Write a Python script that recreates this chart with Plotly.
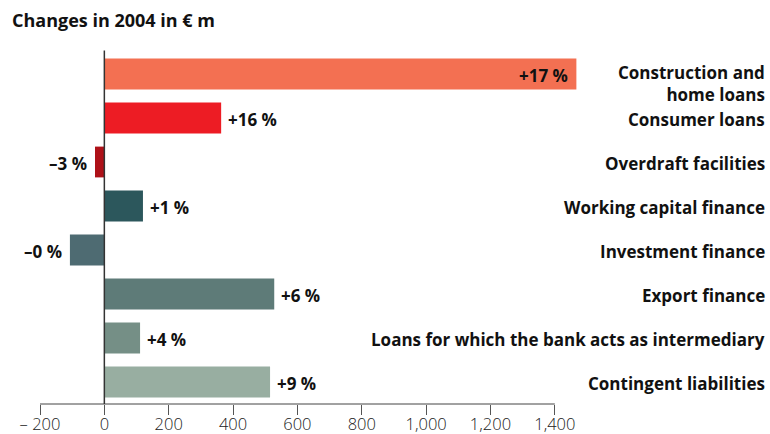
import plotly.graph_objects as go

# Changes in lending volume in 2004, € m, with growth rates
categories = [
    "Construction and<br>home loans",
    "Consumer loans",
    "Overdraft facilities",
    "Working capital finance",
    "Investment finance",
    "Export finance",
    "Loans for which the bank acts as intermediary",
    "Contingent liabilities",
]
values = [1467, 363, -29, 120, -107, 528, 111, 515]
pct_labels = ["+17 %", "+16 %", "–3 %", "+1 %", "–0 %", "+6 %", "+4 %", "+9 %"]
colors = ["#F37052", "#ED1C24", "#AE1118", "#2C575C",
          "#4E6B72", "#5E7B78", "#758F86", "#98AEA1"]
tick_vals = [-200, 0, 200, 400, 600, 800, 1000, 1200, 1400]
tick_text = ["– 200", "0", "200", "400", "600", "800", "1,000", "1,200", "1,400"]

FONT = "Open Sans"
TXT = "#111111"
ypos = list(range(len(categories)))

fig = go.Figure()
fig.add_trace(go.Bar(
    y=ypos,
    x=values,
    orientation="h",
    marker=dict(color=colors, line=dict(width=0)),
    hoverinfo="skip",
))

# growth-rate labels: inside the end of the longest bar, beside the others
for i, (v, lab) in enumerate(zip(values, pct_labels)):
    if i == 0:
        anchor, shift = "right", -6
    elif v >= 0:
        anchor, shift = "left", 5
    else:
        anchor, shift = "right", -6
    fig.add_annotation(
        x=v, xref="x", y=i, yref="y", text=lab, showarrow=False,
        xanchor=anchor, yanchor="middle", xshift=shift, yshift=-1,
        font=dict(family=FONT, size=17, color=TXT, weight="bold"),
    )

# category names, right-aligned at the right edge of the figure
for i, name in enumerate(categories):
    two_line = "<br>" in name
    fig.add_annotation(
        x=1.3298, xref="paper", y=i, yref="y",
        text=name, showarrow=False,
        xanchor="right", yanchor="middle", align="right",
        yshift=(-9 if two_line else -1),
        font=dict(family=FONT, size=17, color=TXT, weight="bold"),
    )

# axis baseline spans only the labelled range
fig.add_shape(type="line", xref="x", yref="paper",
              x0=tick_vals[0], x1=tick_vals[-1], y0=0, y1=0,
              line=dict(color="#444444", width=1))
# vertical zero line
fig.add_shape(type="line", xref="x", yref="paper",
              x0=0, x1=0, y0=0, y1=1.004,
              line=dict(color="#333333", width=1.5), layer="above")

fig.update_layout(
    width=770, height=434,
    margin=dict(l=40, r=183.3, t=51.5, b=29.6, autoexpand=False),
    paper_bgcolor="white", plot_bgcolor="white",
    showlegend=False,
    bargap=0.30,
    title=dict(text="Changes in 2004 in € m", x=12 / 770, xanchor="left",
               xref="container", y=1 - 21 / 434, yanchor="middle", yref="container",
               font=dict(family=FONT, size=18, color=TXT, weight="bold")),
    xaxis=dict(
        range=[-200, 1500],
        tickvals=tick_vals, ticktext=tick_text,
        ticks="outside", ticklen=10, tickcolor="#555555", tickwidth=1,
        ticklabelstandoff=-5,
        tickfont=dict(family=FONT, size=16.5, color="#222222", weight=300),
        showgrid=False, zeroline=False, showline=False, automargin=False,
    ),
    yaxis=dict(
        range=[len(categories) - 0.5, -0.5],
        showticklabels=False, showgrid=False, zeroline=False, showline=False,
        automargin=False,
    ),
)

fig.write_html("out.html")
